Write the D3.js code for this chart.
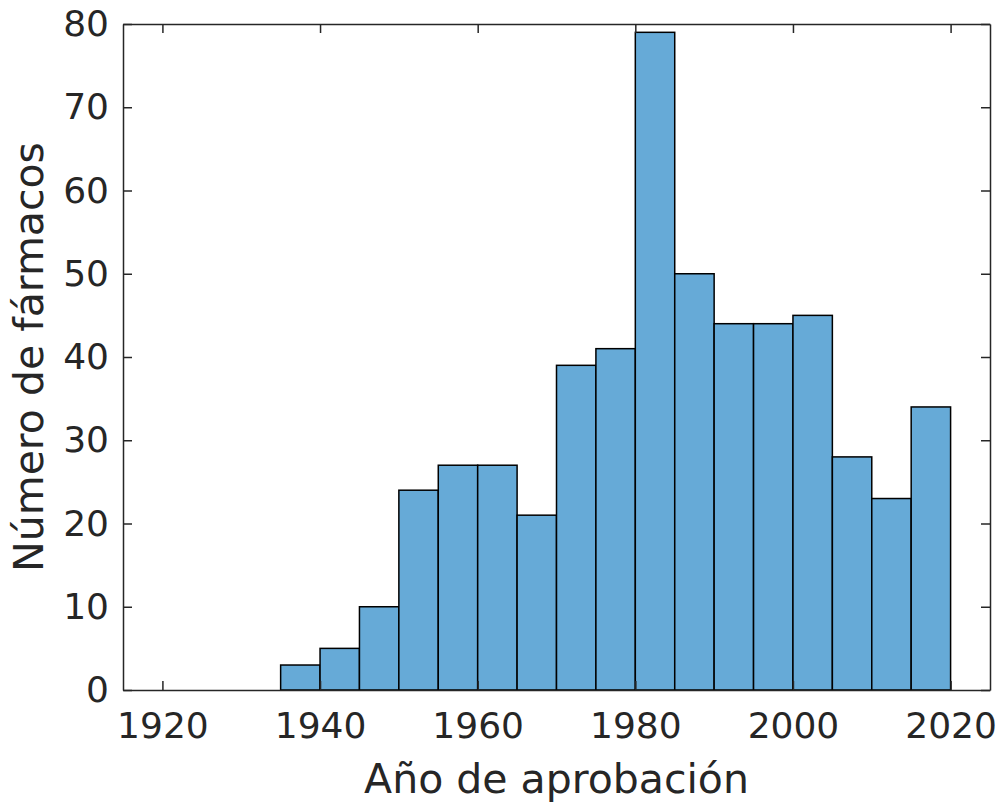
<!DOCTYPE html>
<html>
<head>
<meta charset="utf-8">
<script src="https://cdn.jsdelivr.net/npm/d3@7"></script>
<style>
  body { margin: 0; background: #fff; }
  svg text { font-family: "DejaVu Sans", sans-serif; fill: #262626; }
</style>
</head>
<body>
<svg id="chart" width="1002" height="802"></svg>
<script>
'use strict';

// bins are 5 years wide, starting at the year listed
var binStarts = [1920, 1925, 1930, 1935, 1940, 1945, 1950, 1955, 1960, 1965,
                 1970, 1975, 1980, 1985, 1990, 1995, 2000, 2005, 2010, 2015];
var counts    = [0, 0, 0, 3, 5, 10, 24, 27, 27, 21,
                 39, 41, 79, 50, 44, 44, 45, 28, 23, 34];
var binWidth = 5;
var xTicks = [1920, 1940, 1960, 1980, 2000, 2020];
var yTicks = [0, 10, 20, 30, 40, 50, 60, 70, 80];

var margin = {left: 123, right: 12, top: 24, bottom: 112};
var width = 1002, height = 802;

var svg = d3.select('#chart');

var x = d3.scaleLinear().domain([1915, 2025]).range([margin.left, width - margin.right]);
var y = d3.scaleLinear().domain([0, 80]).range([height - margin.bottom, margin.top]);

// bars
svg.append('g').selectAll('rect').data(binStarts).enter().append('rect')
    .attr('x', function (d) { return x(d); })
    .attr('width', function (d) { return x(d + binWidth) - x(d); })
    .attr('y', function (d, i) { return y(counts[i]); })
    .attr('height', function (d, i) { return y(0) - y(counts[i]); })
    .attr('fill', '#66aad7')
    .attr('stroke', function (d, i) { return counts[i] > 0 ? '#000' : 'none'; })
    .attr('stroke-width', 1.5);

var tickLen = 9;

// bottom axis
var xAxis = d3.axisBottom(x).tickValues(xTicks).tickFormat(d3.format('d'))
    .tickSizeInner(-tickLen).tickSizeOuter(0).tickPadding(22);
var gx = svg.append('g').attr('transform', 'translate(0,' + y(0) + ')').call(xAxis);

// left axis
var yAxis = d3.axisLeft(y).tickValues(yTicks)
    .tickSizeInner(-tickLen).tickSizeOuter(0).tickPadding(14);
var gy = svg.append('g').attr('transform', 'translate(' + x(1915) + ',0)').call(yAxis);

// top and right ticks (box)
var gt = svg.append('g').attr('transform', 'translate(0,' + y(80) + ')')
    .call(d3.axisTop(x).tickValues(xTicks).tickFormat('').tickSizeInner(-tickLen).tickSizeOuter(0));
var gr = svg.append('g').attr('transform', 'translate(' + x(2025) + ',0)')
    .call(d3.axisRight(y).tickValues(yTicks).tickFormat('').tickSizeInner(-tickLen).tickSizeOuter(0));

[gx, gy, gt, gr].forEach(function (g) {
    g.select('.domain').attr('stroke', '#262626').attr('stroke-width', 1.5);
    g.selectAll('.tick line').attr('stroke', '#262626').attr('stroke-width', 1.5);
    g.selectAll('.tick text').attr('font-size', 36).attr('fill', '#262626')
        .attr('font-family', '"DejaVu Sans", sans-serif');
});

// axis labels
svg.append('text')
    .attr('x', (x(1915) + x(2025)) / 2).attr('y', 793)
    .attr('text-anchor', 'middle').attr('font-size', 41)
    .text('Año de aprobación');

svg.append('text')
    .attr('transform', 'translate(43,' + (y(0) + y(80)) / 2 + ') rotate(-90)')
    .attr('text-anchor', 'middle').attr('font-size', 41)
    .text('Número de fármacos');
</script>
</body>
</html>
